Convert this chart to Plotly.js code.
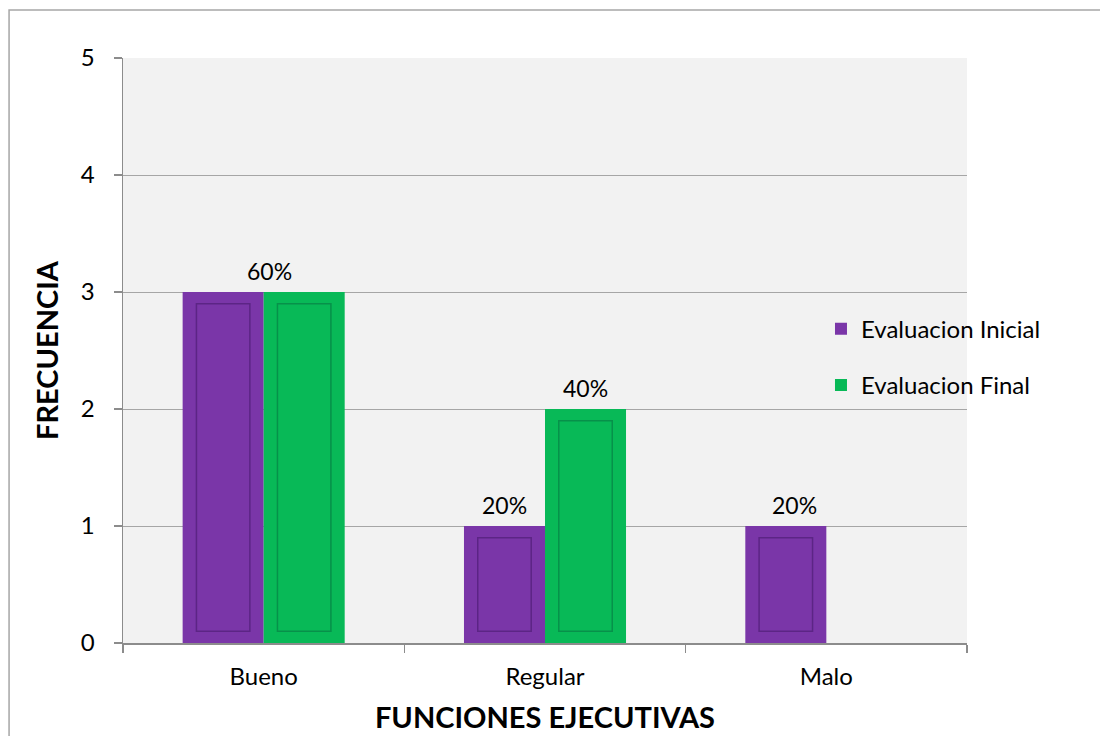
<!DOCTYPE html>
<html>
<head>
<meta charset="utf-8">
<script src="https://cdn.plot.ly/plotly-3.0.1.min.js"></script>
<style>html,body{margin:0;padding:0;background:#fff;}#chart{width:1100px;height:736px;}</style>
</head>
<body>
<div id="chart"></div>
<script>
var categories = ["Bueno", "Regular", "Malo"];
var initialValues = [3, 1, 1];
var finalValues = [3, 2, 0];
var initialLabels = ["60%", "20%", "20%"];
var finalLabels = ["", "40%", ""];
var seriesNames = ["Evaluacion Inicial", "Evaluacion Final"];
var yTicks = [0, 1, 2, 3, 4, 5];

var FONT = "Lato, 'Open Sans', sans-serif";
var purple = "#7a36a8", green = "#08b957";
var barW = 0.288;
var inset = 0.1;
var innerW = 0.19;

function outer(vals, name, color, off) {
  return {type: "bar", x: categories, y: vals, name: name, legendgroup: name,
    marker: {color: color, line: {color: color, width: 0}},
    width: barW, offset: off, hoverinfo: "skip"};
}
function inner(vals, name, color, edge, off) {
  var ys = vals.map(function(v){ return v > 0 ? v - 2*inset : null; });
  return {type: "bar", x: categories, y: ys, base: vals.map(function(){return inset;}),
    legendgroup: name, showlegend: false, marker: {color: color, line: {color: edge, width: 1.5}},
    width: innerW, offset: off, hoverinfo: "skip"};
}
var traces = [
  outer(initialValues, seriesNames[0], purple, -barW),
  outer(finalValues, seriesNames[1], green, 0),
  inner(initialValues, seriesNames[0], purple, "#5c2585", -barW + (barW - innerW)/2),
  inner(finalValues, seriesNames[1], green, "#07914a", (barW - innerW)/2)
];

var annotations = [];
categories.forEach(function(c, i){
  if (initialLabels[i]) {
    var xo = (i === 0) ? 0.02 : -barW/2 + (i === 2 ? 0.03 : 0);
    var yv = (i === 0) ? Math.max(initialValues[i], finalValues[i]) : initialValues[i];
    annotations.push({x: i + xo, y: yv, xref: "x", yref: "y", text: initialLabels[i],
      showarrow: false, yanchor: "bottom", yshift: 5, font: {size: 23, color: "#000", family: FONT}});
  }
  if (finalLabels[i]) {
    annotations.push({x: i + barW/2, y: finalValues[i], xref: "x", yref: "y", text: finalLabels[i],
      showarrow: false, yanchor: "bottom", yshift: 5, font: {size: 23, color: "#000", family: FONT}});
  }
});

var layout = {
  width: 1100, height: 736,
  margin: {l: 123, r: 133, t: 58, b: 93},
  paper_bgcolor: "#ffffff",
  plot_bgcolor: "#f2f2f2",
  barmode: "overlay",
  font: {family: FONT, color: "#000"},
  showlegend: true,
  legend: {x: 0.827, y: 0.575, xanchor: "left", yanchor: "top", bgcolor: "rgba(0,0,0,0)",
    font: {size: 24, color: "#000"}, traceorder: "grouped", tracegroupgap: 22, itemwidth: 30},
  xaxis: {
    type: "category", range: [-0.5, 2.5], tickson: "boundaries",
    ticks: "outside", ticklen: 8, tickcolor: "#8c8c8c", tickwidth: 1.5,
    showline: true, linecolor: "#8c8c8c", linewidth: 1.5,
    showgrid: false, tickfont: {size: 24}, ticklabelstandoff: 12,
    title: {text: "<b>FUNCIONES EJECUTIVAS</b>", font: {size: 29}, standoff: 18}
  },
  yaxis: {
    range: [0, 5], tickvals: yTicks, ticktext: yTicks.map(String),
    ticks: "outside", ticklen: 8, tickcolor: "#8c8c8c", tickwidth: 1.5,
    showline: true, linecolor: "#8c8c8c", linewidth: 1.5,
    showgrid: true, gridcolor: "#a6a6a6", gridwidth: 1, zeroline: false,
    tickfont: {size: 24}, ticklabelstandoff: 14,
    title: {text: "<b>FRECUENCIA</b>", font: {size: 29}, standoff: 13}
  },
  annotations: annotations,
  shapes: [
    {type: "rect", xref: "paper", yref: "paper", x0: -0.135, x1: 1.5, y0: -0.5, y1: 1.082,
     line: {color: "#a6a6a6", width: 1.5}, fillcolor: "rgba(0,0,0,0)", layer: "below"}
  ]
};
Plotly.newPlot("chart", traces, layout, {displayModeBar: false, staticPlot: true});
</script>
</body>
</html>
